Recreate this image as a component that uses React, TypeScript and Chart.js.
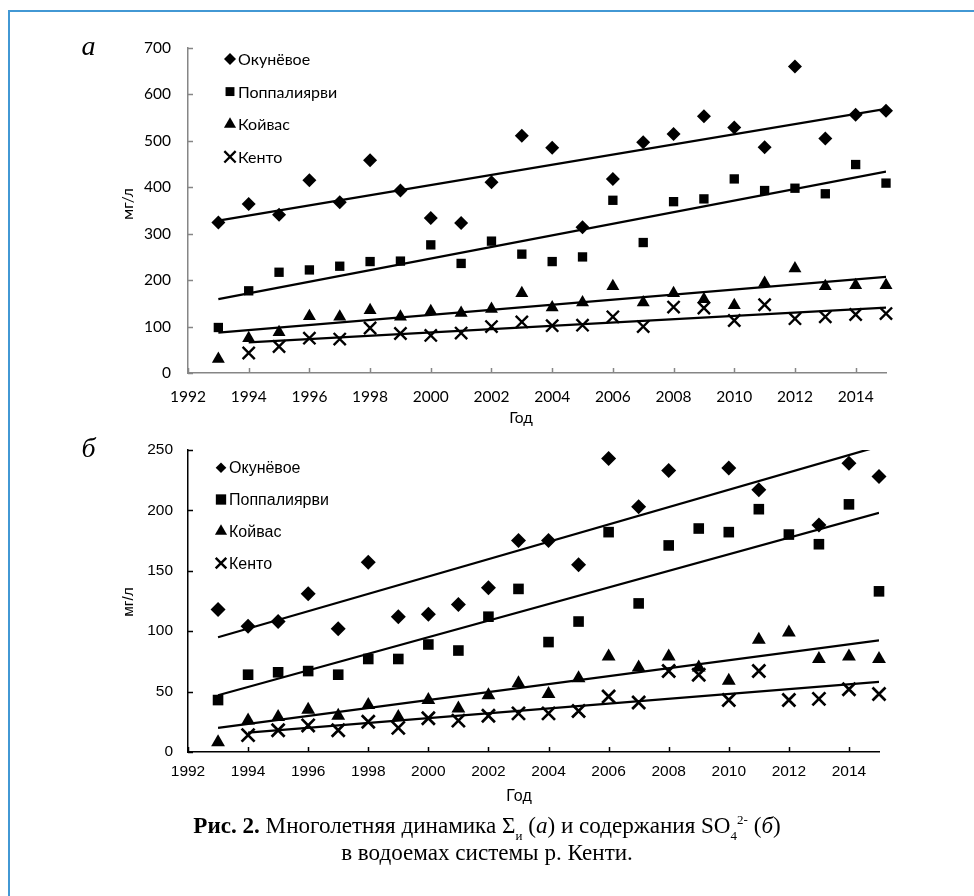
import React, { useEffect, useRef } from "react";
import { Chart, registerables } from "chart.js";

Chart.register(...registerables);

// ---------- data ----------
const years = [1993, 1994, 1995, 1996, 1997, 1998, 1999, 2000, 2001, 2002, 2003, 2004, 2005, 2006, 2007, 2008, 2009, 2010, 2011, 2012, 2013, 2014, 2015];
const seriesNames = ["Окунёвое", "Поппалиярви", "Койвас", "Кенто"];
const xTickYears = [1992, 1994, 1996, 1998, 2000, 2002, 2004, 2006, 2008, 2010, 2012, 2014];

// Chart а: Σи, мг/л
const aOkun = [324, 364, 341, 415, 368, 458, 393, 334, 323, 411, 511, 485, 314, 418, 497, 515, 553, 529, 486, 660, 505, 556, 565];
const aPopp = [98, 177, 217, 222, 230, 240, 241, 276, 236, 284, 256, 240, 250, 372, 281, 369, 375, 418, 393, 398, 386, 449, 409];
const aKoiv = [30, 75, 88, 122, 121, 135, 121, 133, 129, 138, 172, 141, 152, 187, 152, 172, 159, 146, 194, 225, 187, 189, 189];
const aKent = [null, 43, 57, 75, 73, 97, 85, 81, 86, 100, 110, 102, 103, 121, 100, 142, 140, 113, 147, 117, 121, 126, 128];
const aTrendFrom = [1993, 1993, 1993, 1994];
const aTrendStart = [328, 159, 87, 66];
const aTrendEnd = [569, 434, 207, 141];
const aYTicks = [0, 100, 200, 300, 400, 500, 600, 700];

// Chart б: SO4 2-, мг/л
const bOkun = [118, 104, 108, 131, 102, 157, 112, 114, 122, 136, 175, 175, 155, 243, 203, 233, null, 235, 217, null, 188, 239, 228];
const bPopp = [43, 64, 66, 67, 64, 77, 77, 89, 84, 112, 135, 91, 108, 182, 123, 171, 185, 182, 201, 180, 172, 205, 133];
const bKoiv = [8, 26, 29, 35, 30, 39, 29, 43, 36, 47, 57, 48, 61, 79, 70, 79, 70, 59, 93, 99, 77, 79, 77];
const bKent = [null, 14, 18, 22, 18, 25, 20, 28, 26, 30, 32, 32, 34, 46, 41, 67, 64, 43, 67, 43, 44, 52, 48];
const bTrendFrom = [1993, 1993, 1993, 1994];
const bTrendStart = [95, 47, 20, 16];
const bTrendEnd = [253, 198, 92.5, 58];
const bYTicks = [0, 50, 100, 150, 200, 250];
const trendTo = 2015;

const pointStyles = ["rectRot", "rect", "triangle", "crossRot"];

// ---------- helpers ----------
function drawMarker(ctx: CanvasRenderingContext2D, style: string, x: number, y: number, r: number, lw: number) {
  ctx.beginPath();
  if (style === "rectRot") {
    ctx.moveTo(x, y - r);
    ctx.lineTo(x + r, y);
    ctx.lineTo(x, y + r);
    ctx.lineTo(x - r, y);
    ctx.closePath();
    ctx.fill();
  } else if (style === "rect") {
    const s = r * Math.SQRT1_2;
    ctx.rect(x - s, y - s, 2 * s, 2 * s);
    ctx.fill();
  } else if (style === "triangle") {
    ctx.moveTo(x, y - r);
    ctx.lineTo(x + 0.866 * r, y + r / 2);
    ctx.lineTo(x - 0.866 * r, y + r / 2);
    ctx.closePath();
    ctx.fill();
  } else {
    const d = r * Math.SQRT1_2;
    ctx.lineWidth = lw;
    ctx.moveTo(x - d, y - d);
    ctx.lineTo(x + d, y + d);
    ctx.moveTo(x + d, y - d);
    ctx.lineTo(x - d, y + d);
    ctx.stroke();
  }
}

const insideLegend = {
  id: "insideLegend",
  afterDraw(chart: any, _args: any, o: any) {
    const { ctx, chartArea } = chart;
    ctx.save();
    ctx.fillStyle = "#000";
    ctx.strokeStyle = "#000";
    ctx.font = `${o.fontSize}px ${o.family}`;
    ctx.textBaseline = "middle";
    ctx.textAlign = "left";
    seriesNames.forEach((name, i) => {
      const y = chartArea.top + o.firstRow + i * o.rowGap;
      drawMarker(ctx, pointStyles[i], chartArea.left + o.markerX, y, o.radii[i], o.crossWidth);
      ctx.fillText(name, chartArea.left + o.textX, y + o.textDy);
    });
    ctx.restore();
  },
};

const insideTicks = {
  id: "insideTicks",
  afterDraw(chart: any, _args: any, o: any) {
    const { ctx, chartArea, scales } = chart;
    ctx.save();
    ctx.strokeStyle = o.color;
    ctx.lineWidth = o.width;
    ctx.beginPath();
    scales.x.ticks.forEach((t: any) => {
      const px = Math.round(scales.x.getPixelForValue(t.value)) + 0.5;
      ctx.moveTo(px, chartArea.bottom);
      ctx.lineTo(px, chartArea.bottom - o.len);
    });
    scales.y.ticks.forEach((t: any) => {
      const py = Math.round(scales.y.getPixelForValue(t.value)) + 0.5;
      ctx.moveTo(chartArea.left, py);
      ctx.lineTo(chartArea.left + o.len, py);
    });
    ctx.stroke();
    ctx.restore();
  },
};

type Spec = {
  series: (number | null)[][];
  trendFrom: number[];
  trendStart: number[];
  trendEnd: number[];
  yTicks: number[];
  yMax: number;
  family: string;
  tickSize: number;
  axisColor: string;
  radii: number[];
  crossWidth: number;
  legendRadii: number[];
  legendCross: number;
  legendFont: number;
  legendMarkerX: number;
  legendTextX: number;
  legendFirstRow: number;
  legendRowGap: number;
  padding: { top: number; left: number; right: number; bottom: number };
  xPad: number;
  yPad: number;
};

function makeConfig(s: Spec): any {
  const pointSets = s.series.map((vals, i) => ({
    label: seriesNames[i],
    data: years
      .map((yr, j) => ({ x: yr, y: vals[j] }))
      .filter((p) => p.y !== null),
    showLine: false,
    pointStyle: pointStyles[i],
    pointRadius: s.radii[i],
    pointBackgroundColor: "#000",
    pointBorderColor: "#000",
    pointBorderWidth: pointStyles[i] === "crossRot" ? s.crossWidth : 0,
    clip: false,
  }));
  const trendSets = s.trendFrom.map((from, i) => ({
    label: seriesNames[i] + " trend",
    data: [
      { x: from, y: s.trendStart[i] },
      { x: trendTo, y: s.trendEnd[i] },
    ],
    showLine: true,
    borderColor: "#000",
    borderWidth: 2.25,
    pointRadius: 0,
  }));
  const font = { family: s.family, size: s.tickSize };
  return {
    type: "scatter",
    data: { datasets: [...trendSets, ...pointSets] },
    options: {
      animation: false,
      responsive: false,
      events: [],
      layout: { padding: s.padding },
      plugins: {
        legend: { display: false },
        tooltip: { enabled: false },
        insideLegend: {
          family: s.family,
          fontSize: s.legendFont,
          markerX: s.legendMarkerX,
          textX: s.legendTextX,
          firstRow: s.legendFirstRow,
          rowGap: s.legendRowGap,
          radii: s.legendRadii,
          crossWidth: s.legendCross,
          textDy: 1,
        },
        insideTicks: { color: s.axisColor, width: 1.5, len: 5 },
      },
      scales: {
        x: {
          type: "linear",
          min: 1992,
          max: 2015,
          afterBuildTicks: (sc: any) => {
            sc.ticks = xTickYears.map((v) => ({ value: v }));
          },
          afterFit: (sc: any) => {
            sc.height = 30;
          },
          ticks: {
            callback: (v: any) => String(v),
            font,
            color: "#000",
            padding: s.xPad,
            maxRotation: 0,
            autoSkip: false,
          },
          grid: { display: false, drawTicks: false },
          border: { display: true, color: s.axisColor, width: 1.5 },
        },
        y: {
          type: "linear",
          min: 0,
          max: s.yMax,
          afterBuildTicks: (sc: any) => {
            sc.ticks = s.yTicks.map((v) => ({ value: v }));
          },
          afterFit: (sc: any) => {
            sc.width = 60;
          },
          ticks: {
            callback: (v: any) => String(v),
            font,
            color: "#000",
            padding: s.yPad,
          },
          grid: { display: false, drawTicks: false },
          border: { display: true, color: s.axisColor, width: 1.5 },
        },
      },
    },
    plugins: [insideTicks, insideLegend],
  };
}

const specA: Spec = {
  series: [aOkun, aPopp, aKoiv, aKent],
  trendFrom: aTrendFrom,
  trendStart: aTrendStart,
  trendEnd: aTrendEnd,
  yTicks: aYTicks,
  yMax: 700,
  family: "Lato",
  tickSize: 15.5,
  axisColor: "#868686",
  radii: [7, 6.6, 7.5, 8.6],
  crossWidth: 2.4,
  legendRadii: [6, 6.3, 7, 8],
  legendCross: 2.3,
  legendFont: 16,
  legendMarkerX: 42,
  legendTextX: 50,
  legendFirstRow: 11,
  legendRowGap: 32.6,
  padding: { top: 48, left: 128, right: 88, bottom: 17 },
  xPad: 15,
  yPad: 17,
};

const specB: Spec = {
  series: [bOkun, bPopp, bKoiv, bKent],
  trendFrom: bTrendFrom,
  trendStart: bTrendStart,
  trendEnd: bTrendEnd,
  yTicks: bYTicks,
  yMax: 250,
  family: "'Liberation Sans', Arial",
  tickSize: 15.5,
  axisColor: "#000",
  radii: [7.5, 7.5, 8, 9.2],
  crossWidth: 2.7,
  legendRadii: [5.3, 7.3, 7, 7.5],
  legendCross: 2.5,
  legendFont: 16,
  legendMarkerX: 33,
  legendTextX: 41,
  legendFirstRow: 17.7,
  legendRowGap: 31.8,
  padding: { top: 30, left: 128, right: 95, bottom: 38 },
  xPad: 10,
  yPad: 15,
};

function ChartCanvas({ spec, top, height }: { spec: Spec; top: number; height: number }) {
  const ref = useRef<HTMLCanvasElement | null>(null);
  useEffect(() => {
    if (!ref.current) return;
    const chart = new Chart(ref.current, makeConfig(spec));
    return () => chart.destroy();
  }, [spec]);
  return (
    <canvas
      ref={ref}
      width={974}
      height={height}
      style={{ position: "absolute", left: 0, top, width: 974, height, display: "block" }}
    />
  );
}

function Label({ x, y, text, font, size, rotate, italic }: { x: number; y: number; text: string; font: string; size: number; rotate?: boolean; italic?: boolean }) {
  return (
    <div
      style={{
        position: "absolute",
        left: x,
        top: y,
        transform: `translate(-50%, -50%)${rotate ? " rotate(-90deg)" : ""}`,
        fontFamily: font,
        fontSize: size,
        fontStyle: italic ? "italic" : "normal",
        lineHeight: 1,
        whiteSpace: "nowrap",
        color: "#000",
      }}
    >
      {text}
    </div>
  );
}

const serif = "'Liberation Serif', 'DejaVu Serif', serif";
const small: React.CSSProperties = { fontSize: 13, position: "relative", lineHeight: 0 };

export default function App() {
  return (
    <div style={{ position: "absolute", left: 0, top: 0, width: 974, height: 896, background: "#fff", overflow: "hidden" }}>
      <div
        style={{
          position: "absolute",
          left: 8,
          top: 10,
          width: 966,
          height: 886,
          borderTop: "2px solid #4298d4",
          borderLeft: "2px solid #4298d4",
          boxSizing: "border-box",
        }}
      />
      <ChartCanvas spec={specA} top={0} height={420} />
      <ChartCanvas spec={specB} top={420} height={400} />
      <Label x={88.5} y={46} text="а" font={serif} size={28} italic />
      <Label x={88.5} y={448} text="б" font={serif} size={28} italic />
      <Label x={127.5} y={204} text="мг/л" font="Lato" size={15.5} rotate />
      <Label x={521} y={418} text="Год" font="Lato" size={15.5} />
      <Label x={128} y={601.5} text="мг/л" font="'Liberation Sans', Arial" size={15.5} rotate />
      <Label x={519} y={796} text="Год" font="'Liberation Sans', Arial" size={16} />
      <div
        style={{
          position: "absolute",
          left: 0,
          width: 974,
          top: 826,
          transform: "translateY(-50%)",
          textAlign: "center",
          fontFamily: serif,
          fontSize: 23.1,
          lineHeight: 1,
          whiteSpace: "nowrap",
          color: "#000",
        }}
      >
        <b>Рис. 2.</b> Многолетняя динамика Σ<span style={{ ...small, top: 7 }}>и</span> (<i>а</i>) и содержания SO
        <span style={{ ...small, top: 7 }}>4</span>
        <span style={{ ...small, top: -9 }}>2-</span> (<i>б</i>)
      </div>
      <div
        style={{
          position: "absolute",
          left: 0,
          width: 974,
          top: 853,
          transform: "translateY(-50%)",
          textAlign: "center",
          fontFamily: serif,
          fontSize: 23.1,
          lineHeight: 1,
          whiteSpace: "nowrap",
          color: "#000",
        }}
      >
        в водоемах системы р. Кенти.
      </div>
    </div>
  );
}
